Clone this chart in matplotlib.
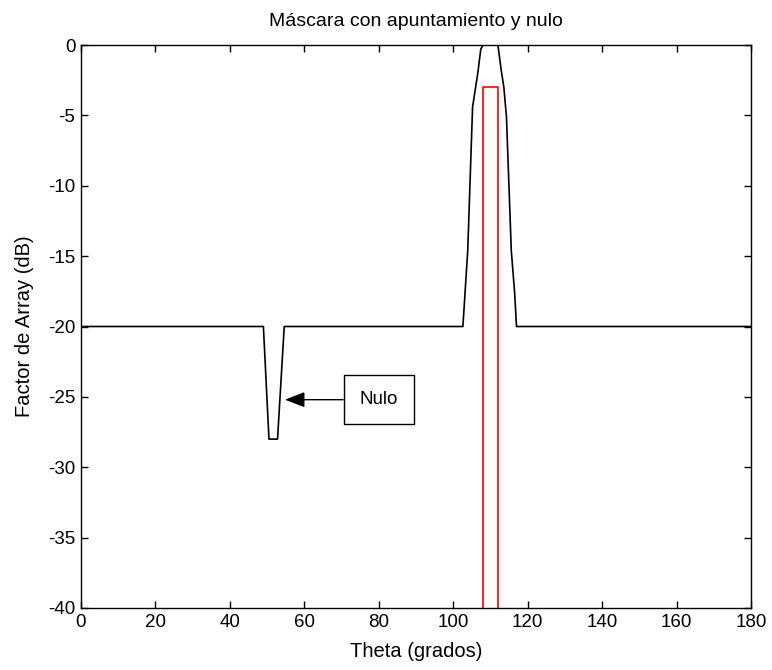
import matplotlib
matplotlib.use("Agg")
import matplotlib.pyplot as plt
from matplotlib import font_manager

fams = [f.name for f in font_manager.fontManager.ttflist]
fam = 'Liberation Sans Narrow' if 'Liberation Sans Narrow' in fams else 'Liberation Sans'
plt.rcParams['font.family'] = [fam, 'DejaVu Sans']
plt.rcParams['axes.unicode_minus'] = False

# Data
mask_theta = [0, 49, 50.5, 52.8, 54.6, 102.6, 103.9, 105.2, 106.6, 107.4, 108, 112,
              112.9, 113.6, 114.3, 115.6, 116.5, 117.0, 180]
mask_db = [-20, -20, -28, -28, -20, -20, -14.6, -4.4, -2, -0.3, 0, 0,
           -1.8, -3, -5.1, -14.6, -17.6, -20, -20]
red_theta = [108, 108, 112, 112]
red_db = [-40, -3, -3, -40]
xticks = list(range(0, 181, 20))
yticks = list(range(-40, 1, 5))

fig = plt.figure(figsize=(7.72, 6.70), dpi=100)
ax = fig.add_axes([81/772, 1-608/670, 670/772, 563/670])
ax.plot(mask_theta, mask_db, color='black', lw=1.2)
ax.plot(red_theta, red_db, color='red', lw=1.2)
ax.set_xlim(0, 180)
ax.set_ylim(-40, 0)
ax.set_xticks(xticks)
ax.set_yticks(yticks)
ax.tick_params(direction='in', top=True, right=True, length=5, labelsize=13.5, width=1, pad=4)
for s in ax.spines.values():
    s.set_linewidth(1)
ax.set_title('Máscara con apuntamiento y nulo', fontsize=14, pad=14)
ax.set_xlabel('Theta (grados)', fontsize=14.5, labelpad=8)
ax.set_ylabel('Factor de Array (dB)', fontsize=14.5, labelpad=10)

ax.annotate('Nulo', xy=(54.8, -25.2), xytext=(80, -25.2), fontsize=13.5,
            ha='center', va='center',
            bbox=dict(boxstyle='square,pad=0.85', fc='white', ec='black', lw=1),
            arrowprops=dict(arrowstyle='-|>,head_length=0.9,head_width=0.35', color='black', lw=1,
                            shrinkA=0, shrinkB=0))

fig.savefig('out.png', dpi=100)
